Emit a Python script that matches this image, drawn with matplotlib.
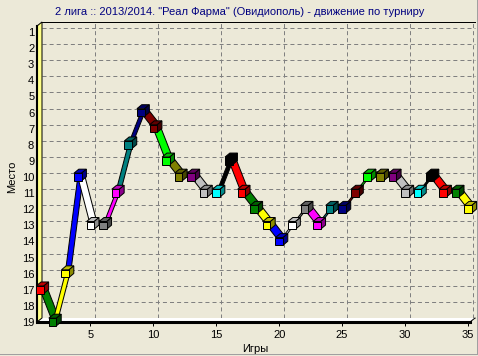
import matplotlib
matplotlib.use("Agg")
import matplotlib.pyplot as plt
import numpy as np
from matplotlib.patches import Polygon
from matplotlib.lines import Line2D
from matplotlib.transforms import IdentityTransform

plt.rcParams.update({
    "font.family": ["Liberation Sans", "DejaVu Sans"],
    "font.size": 8,
    "lines.scale_dashes": False,
})

BG = "#ECE9D8"
NAVY = "#000080"
GRID = "#808080"
TITLE = '2 лига :: 2013/2014. "Реал Фарма" (Овидиополь) - движение по турниру'

games = list(range(1, 36))
places = [17, 19, 16, 10, 13, 13, 11, 8, 6, 7, 9, 10, 10, 11, 11, 9, 11, 12,
          13, 14, 13, 12, 13, 12, 12, 11, 10, 10, 10, 11, 11, 10, 11, 11, 12]
x_ticks = list(range(5, 36, 5))
y_ticks = list(range(1, 20))

# TeeChart default palette, cycled per point
palette = ["#FF0000", "#008000", "#FFFF00", "#0000FF", "#FFFFFF", "#808080",
           "#FF00FF", "#008080", "#000080", "#800000", "#00FF00", "#808000",
           "#800080", "#C0C0C0", "#00FFFF", "#000000"]

DX, DY = 5, 4      # wall depth offset in pixels (right, up)
SX, SY = 6, 5      # series depth
HALF = 3.8         # half size of marker cube front face, px


def shade(c, f):
    r, g, b = matplotlib.colors.to_rgb(c)
    return (r * f, g * f, b * f)


fig = plt.figure(figsize=(4.78, 3.56), dpi=100, facecolor=BG)
ax = fig.add_axes([37 / 478, 34 / 356, 433 / 478, 296 / 356])
ax.set_xlim(0.76, 35.16)
ax.set_ylim(19, 0.63)
ax.set_facecolor("none")
for s in ax.spines.values():
    s.set_visible(False)
ax.set_xticks(x_ticks)
ax.set_yticks(y_ticks)
ax.tick_params(axis="x", length=3, width=0.72, pad=3, labelsize=8)
ax.tick_params(axis="y", length=0, pad=2, labelsize=8)

ident = IdentityTransform()
fig.canvas.draw()
(x0, y0), (x1, y1) = ax.transAxes.transform([(0, 0), (1, 1)])


def poly(pts, fc, ec="black", lw=0.72, z=2):
    p = Polygon(pts, closed=True, facecolor=fc, edgecolor=ec, linewidth=lw,
                transform=ident, zorder=z, clip_on=False)
    fig.add_artist(p)


def seg(xs, ys, color="black", lw=0.72, ls="-", z=2):
    ln = Line2D(xs, ys, color=color, linewidth=lw, linestyle=ls,
                transform=ident, zorder=z, clip_on=False)
    fig.add_artist(ln)


# back wall grid
dash = (0, (2.9, 2.2))
for v in y_ticks:
    yy = ax.transData.transform((1, v))[1] + DY
    seg([x0 + DX, x1 + DX], [yy, yy], GRID, 0.72, dash, 1)
for t in x_ticks:
    xx = ax.transData.transform((t, 1))[0] + DX
    seg([xx, xx], [y0 + DY, y1 + DY], GRID, 0.72, dash, 1)
seg([x0 + DX, x1 + DX], [y1 + DY, y1 + DY], "black", 0.72, "-", 1)

# floor and left wall
poly([(x0, y0), (x1, y0), (x1 + DX, y0 + DY), (x0 + DX, y0 + DY)], "white",
     "none", 0, 1)
poly([(x0, y0), (x0, y1), (x0 + DX, y1 + DY), (x0 + DX, y0 + DY)], "#FFFF88",
     "black", 0.72, 1)
seg([x0, x1], [y0, y0], "black", 2.2, "-", 1.5)
seg([x1, x1 + DX], [y0, y0 + DY], "black", 0.72, "-", 1.5)
seg([x0, x0], [y0, y1], "black", 1.5, "-", 1.5)

# series: 3D ribbons, colour of the segment = colour of its end point
pts = ax.transData.transform(np.column_stack([games, places]))
cols = [palette[i % len(palette)] for i in range(len(games))]
for i in range(1, len(pts)):
    (ax_, ay_), (bx, by) = pts[i - 1], pts[i]
    poly([(ax_, ay_), (bx, by), (bx + SX, by + SY), (ax_ + SX, ay_ + SY)],
         cols[i], "black", 0.72, 3)

# marker cubes
for (px, py), c in zip(pts, cols):
    l, r, b, t = px - HALF, px + HALF, py - HALF, py + HALF
    poly([(l, t), (r, t), (r + SX * 0.8, t + SY * 0.8),
          (l + SX * 0.8, t + SY * 0.8)], shade(c, 0.75), "black", 0.72, 4)
    poly([(r, b), (r + SX * 0.8, b + SY * 0.8), (r + SX * 0.8, t + SY * 0.8),
          (r, t)], shade(c, 0.55), "black", 0.72, 4)
    poly([(l, b), (r, b), (r, t), (l, t)], c, "black", 0.72, 4)

fig.text(240 / 478, 1 - 12 / 356, TITLE, ha="center", va="center",
         color=NAVY, fontsize=8)
fig.text(255 / 478, 1 - 349 / 356, "Игры", ha="center", va="center",
         fontsize=8)
fig.text(12 / 478, 1 - 177 / 356, "Место", ha="center", va="center",
         rotation=90, fontsize=8)

# panel bevel
seg([0, 478], [2.5, 2.5], "#A0A0A0", 0.72, "-", 0.5)
seg([476.5, 476.5], [2.5, 356], "#A0A0A0", 0.72, "-", 0.5)

fig.savefig("out.png", dpi=100, facecolor=BG)
